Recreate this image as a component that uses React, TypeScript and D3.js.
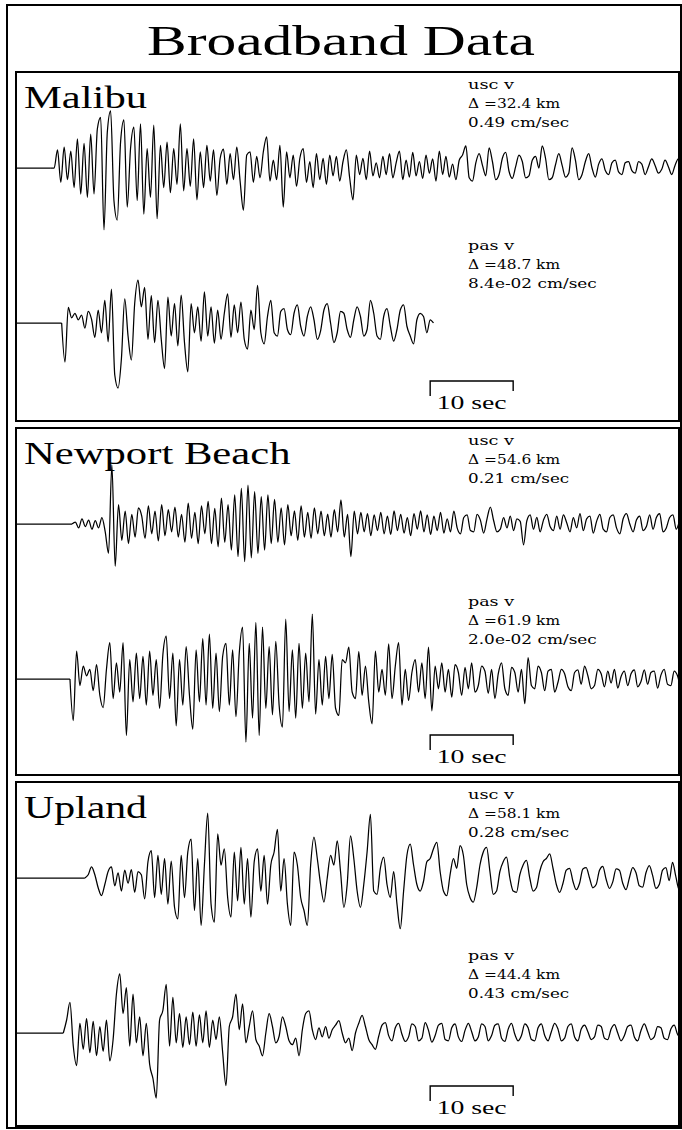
import * as d3 from "d3";

// Sismogrammes large bande, vitesse verticale, normalisés (100 = pic de la trace)
const stations = ["Malibu", "Newport Beach", "Upland"];
const components = ["usc v", "pas v"];
const distances = [[32.4, 48.7], [54.6, 61.9], [58.1, 44.4]];
const peakLabels = [["0.49", "8.4e-02"], ["0.21", "2.0e-02"], ["0.28", "0.43"]];
const onsets = [[4.2, 5.5], [6.75, 6.5], [8.3, 5.7]];
const DT = 0.4;
const scaleBarSec = [49.9, 59.9];

const malibuUsc = [
  0, 28, -22, 32, -18, 26, -30, 45, -40, 38,
  -45, 52, -40, 60, 78, -95, 55, 88, -50, -80,
  40, 74, -60, 30, 63, -50, 68, -71, 30, -45,
  66, -78, 35, -30, 40, -38, 30, -25, 68, -35,
  30, -28, 45, -49, 25, -30, 35, -20, 28, -42,
  15, 29, -25, 22, -18, 32, -20, -65, 20, 25,
  -22, 18, -15, 25, 48, -20, 12, -18, 35, -60,
  25, -15, 20, -28, 15, 30, -22, 10, -30, 22,
  -18, 15, -25, 20, -12, 18, -20, 10, 28, -15,
  -49, 20, -10, 15, -18, 26, -12, 8, -15, 18,
  -10, 22, -15, 8, 26, -18, 12, -14, 24, -12,
  10, -16, 20, -8, 14, -20, 26, -10, 18, -14,
  6, -18, 12, 20, 34, -15, -20, 8, 22, 4,
  -12, 31, 10, -18, -10, 15, 24, -5, -16, 2,
  20, 10, -15, -12, 12, 18, 0, 34, 15, -18,
  -15, 5, 22, 4, -14, -8, 31, 12, -18, -10,
  10, 22, 0, -14, 6, 14, -4, -10, 8, 12,
  -6, -10, 8, 10, -4, -8, 10, 6, -10, 2,
  14, 4, -8, -2, 12, 2, -10, 4, 14, -4,
];

const malibuPas = [
  -60, 24, 8, 15, 5, 12, -8, 18, 6, -22,
  20, -15, 35, -29, 52, -80, -100, -55, 37, -20,
  -57, 30, 66, 25, 55, -25, 42, -30, 35, -25,
  -70, 40, -20, 30, -35, 43, -30, -75, 30, -15,
  25, -28, 48, -20, 25, -31, 20, -25, 15, 45,
  -22, 28, -15, 32, -25, -40, 20, -10, 58, -15,
  -32, 10, 35, -15, -20, 18, 22, -10, -18, 15,
  28, -5, -20, 10, 25, 5, -25, -12, 20, 30,
  0, -30, -15, 18, 15, -10, -22, 5, 25, 10,
  -20, -10, 35, 15, -20, -25, 10, 22, -5, -28,
  -10, 20, 28, -5, -20, -32, 5, 15, 10, -15,
  5, 0,
];

const newportUsc = [
  3, -6, 8, -4, 6, -8, 5, -6, 10, -12,
  -45, 91, -65, 30, -25, 20, -30, 15, -20, 25,
  12, -22, 28, -15, 20, -26, 30, -18, 22, -12,
  26, -20, 15, -28, 32, -22, 18, -30, 28, -15,
  35, -30, 24, -35, 40, -28, 30, -40, 45, -50,
  55, -58, 60, -52, 50, -45, 42, -40, 45, -30,
  38, -28, 25, -32, 30, -18, 20, -25, 28, -20,
  18, -22, 25, -15, 20, -18, 15, -20, 22, -12,
  37, -20, 15, -50, 20, -15, 18, -12, 16, -18,
  14, -10, 18, -15, 12, -16, 20, -10, 15, -14,
  10, -18, 16, -8, 20, -12, 14, -16, 12, -10,
  18, -14, 8, -12, 20, -6, -15, 10, 14, -10,
  -12, 15, 6, -14, 8, 26, 5, -12, -8, 10,
  -6, 12, -10, 8, 4, -32, 5, 14, -8, 10,
  -12, 6, 15, -4, -10, 12, -8, 14, 2, -12,
  10, -6, 16, -10, 8, 12, -14, 4, 15, -8,
  -12, 10, 14, -6, -15, 8, 16, 0, -12, 6,
  12, -10, -4, 14, -8, 10, 16, -12, -6, 10,
  14, -8, 4, 12,
];

const newportPas = [
  -64, 43, -10, 20, 5, 15, -18, 22, -25, -44,
  15, 56, -30, 25, -20, 56, -87, 30, -35, 40,
  -30, 35, -40, 43, -25, 30, -45, 38, 66, -30,
  40, -72, 30, -40, 50, -25, -77, 45, -35, 62,
  -40, 69, -45, 40, -50, 35, 55, -40, 45, -58,
  40, 80, -97, 55, -60, 87, -87, 80, -45, 50,
  -55, 58, -40, -74, 92, -50, 45, -60, 55, -45,
  40, -35, 100, -54, 30, -40, 35, -30, 38, -45,
  -56, 30, 25, 49, -20, -30, 42, -25, 20, -35,
  -69, 43, -20, 15, -25, 54, -30, 20, 56, -40,
  15, -33, 10, 30, -20, 25, -30, 49, -49, 20,
  -15, 25, -20, 15, -28, 22, 10, -25, 18, -15,
  25, -20, -10, 20, 12, -22, 15, -30, 8, 25,
  -15, -25, 18, 10, -20, 15, -38, 33, -10, -15,
  20, 10, -18, 12, 15, -20, -5, 15, 8, -12,
  -18, 10, 14, -8, 20, 5, -15, -10, 15, 8,
  -12, 12, -6, 15, -14, 4, 12, -10, 8, 14,
  -12, -4, 14, -8, 10, 12, -14, 6, 15, -8,
  -10, 12, 5, -12, 8,
];

const uplandUsc = [
  5, 17, 5, -15, -27, -10, 10, 17, -12, 8,
  -20, 12, -8, 13, -22, 10, 5, -32, 25, 42,
  -30, 35, -25, 30, -40, 26, -45, -63, 35, -30,
  40, 60, -50, 30, -73, 20, 100, -40, -68, 68,
  20, 45, -30, -60, 40, -35, 47, -40, 30, -60,
  25, 45, -20, 35, -40, 20, 40, 75, -20, 30,
  -40, -73, 40, 20, -30, -50, -73, 20, 63, 30,
  -10, -37, 0, 35, 20, 57, 10, -45, -10, 65,
  30, -20, -45, -10, 40, 98, -20, -25, 15, 32,
  -10, -30, 10, -40, -78, -20, 35, 52, 20, -10,
  -20, -5, 25, 30, 45, 55, 10, -20, -27, 5,
  30, 15, 50, 35, -10, -30, -37, -15, 20, 40,
  47, 10, -25, -20, 10, 25, 32, 0, -20, -22,
  5, 20, 27, 0, -20, -15, 10, 25, 30, 37,
  15, -10, -22, -8, 12, 15, -5, -18, -8, 14,
  16, 0, -15, -10, 12, 18, -2, -16, -6, 14,
  12, -8, -18, 0, 16, 8, -12, -14, 8, 19,
  4, -16, -10, 12, 16, -4, 24, 2, -18, -6,
];

const uplandPas = [
  20, 47, -20, -50, 15, -25, 22, -30, 18, -35,
  10, -28, 20, -43, -10, 60, 91, 30, 70, -20,
  60, -15, 25, -35, 15, -48, -70, -100, 20, 35,
  75, -20, 55, -15, 30, -22, 25, -18, 32, -20,
  28, -15, 34, -22, 20, -10, 25, -30, -81, 10,
  25, 60, 5, 45, -15, 10, 34, -10, -20, -35,
  0, 30, 10, -15, -5, 25, 10, -12, -18, -8,
  -35, 5, 30, 34, 5, -10, 8, -6, 10, -8,
  5, 12, 19, 0, -15, -8, -27, 0, 15, 27,
  10, -10, -18, -25, -5, 12, 16, -4, -12, 8,
  15, -2, -13, -6, 14, 10, -12, -8, 16, 4,
  -14, -4, 12, 15, -10, -12, 8, 14, -6, -13,
  4, 15, 2, -12, -6, 14, 10, -12, -4, 12,
  14, -8, -13, 6, 15, -2, -12, -4, 14, 8,
  -10, -12, 8, 14, -4, -12, 2, 15, 6, -12,
  -8, 10, 14, -6, -12, 6, 12, 2, -10, -6,
  12, 10, -8, -10, 6, 13, 0, -12, -4, 10,
  12, -6, -12, 4, 14, 2, -10, -6, 10, 8,
  -8, -10, 6, 12, -2, -8, 4,
];

const traces = [
  [malibuUsc, malibuPas],
  [newportUsc, newportPas],
  [uplandUsc, uplandPas],
];

// Mise en page
const panels = [
  { top: 72, bottom: 421 },
  { top: 428, bottom: 775 },
  { top: 782, bottom: 1126 },
];
const panelLeft = 16;
const panelRight = 679;
const traceOffsets = [96, 251];
const annotOffsets = [17, 178];

const titleFont = "'Liberation Serif', 'DejaVu Serif', serif";
const annotFont = "'DejaVu Serif', 'Liberation Serif', serif";

export default function App() {
  // 10 s = 83 px
  const xScale = d3
    .scaleLinear()
    .domain([0, 10])
    .range([panelLeft, panelLeft + 83]);
  const amp = d3.scaleLinear().domain([-100, 100]).range([65, -65]);

  const line = d3
    .line<[number, number]>()
    .x((d) => xScale(d[0]))
    .y((d) => amp(d[1]))
    .curve(d3.curveMonotoneX);

  return (
    <svg
      width={682}
      height={1130}
      style={{ position: "absolute", left: 0, top: 0, background: "#fff" }}
    >
      <rect x={7} y={5} width={674} height={1123} fill="none" stroke="#000" strokeWidth={2} />
      <text
        x={341}
        y={55}
        textAnchor="middle"
        fontFamily={titleFont}
        fontSize={42}
        textLength={388}
        lengthAdjust="spacingAndGlyphs"
      >
        Broadband Data
      </text>

      {panels.map((p, pi) => {
        const barX0 = xScale(scaleBarSec[0]);
        const barX1 = xScale(scaleBarSec[1]);
        const barY = p.bottom - 40;
        return (
          <g key={pi}>
            <defs>
              <clipPath id={`clip${pi}`}>
                <rect x={panelLeft} y={p.top} width={panelRight - panelLeft} height={p.bottom - p.top} />
              </clipPath>
            </defs>
            <rect
              x={panelLeft}
              y={p.top}
              width={panelRight - panelLeft}
              height={p.bottom - p.top}
              fill="none"
              stroke="#000"
              strokeWidth={2}
            />
            <text
              x={24}
              y={p.top + 36}
              fontFamily={titleFont}
              fontSize={32}
              textLength={stations[pi].length * 20.5}
              lengthAdjust="spacingAndGlyphs"
            >
              {stations[pi]}
            </text>

            {traces[pi].map((vals, ti) => {
              const onset = onsets[pi][ti];
              const flat: [number, number][] = [[0, 0], [onset, 0]];
              const wave: [number, number][] = [
                [onset, 0],
                ...vals.map((v, i) => [onset + (i + 1) * DT, v] as [number, number]),
              ];
              const base = p.top + traceOffsets[ti];
              const ay = p.top + annotOffsets[ti];
              const lines = [
                components[ti],
                `Δ =${distances[pi][ti]} km`,
                `${peakLabels[pi][ti]} cm/sec`,
              ];
              return (
                <g key={ti}>
                  <g
                    clipPath={`url(#clip${pi})`}
                    fill="none"
                    stroke="#000"
                    strokeWidth={1.25}
                    strokeLinejoin="round"
                  >
                    <path d={line(flat) ?? ""} transform={`translate(0,${base})`} />
                    <path d={line(wave) ?? ""} transform={`translate(0,${base})`} />
                  </g>
                  {lines.map((s, li) => (
                    <text
                      key={li}
                      x={468}
                      y={ay + li * 19}
                      fontFamily={annotFont}
                      fontSize={12.5}
                      textLength={s.length * 9.2}
                      lengthAdjust="spacingAndGlyphs"
                    >
                      {s}
                    </text>
                  ))}
                </g>
              );
            })}

            <path
              d={`M${barX0},${barY + 15}V${barY}H${barX1}V${barY + 10}`}
              fill="none"
              stroke="#000"
              strokeWidth={1.4}
            />
            <text
              x={(barX0 + barX1) / 2}
              y={p.bottom - 12}
              textAnchor="middle"
              fontFamily={titleFont}
              fontSize={19}
              textLength={70}
              lengthAdjust="spacingAndGlyphs"
            >
              10 sec
            </text>
          </g>
        );
      })}
    </svg>
  );
}
